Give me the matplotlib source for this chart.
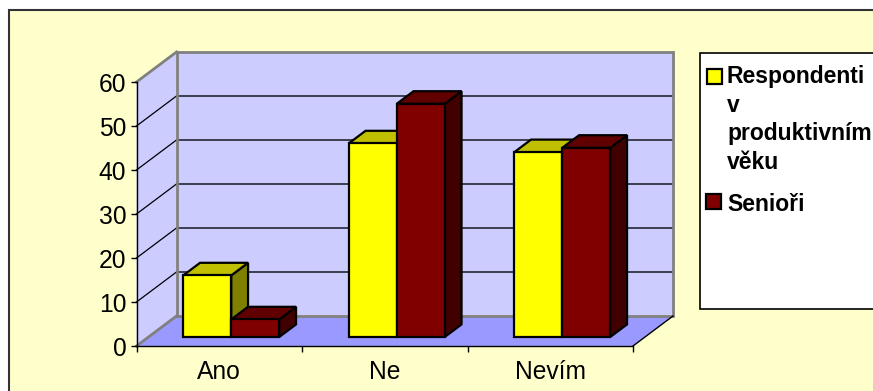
import matplotlib
matplotlib.use("Agg")
import matplotlib.pyplot as plt
from matplotlib.patches import Polygon, Rectangle

plt.rcParams["font.family"] = ["Liberation Sans", "DejaVu Sans"]

kategorie = ["Ano", "Ne", "Nevím"]
serie = ["Respondenti\nv\nproduktivním\nvěku", "Senioři"]
produktivni = [14, 44, 42]
seniori = [4, 53, 43]
y_ticks = [0, 10, 20, 30, 40, 50, 60]

# barvy sten sloupcu: predni, vrchni, bocni
barvy = [("#FFFF00", "#C0C000", "#808000"),
         ("#800000", "#600000", "#400000")]

W, H = 873, 391
fig = plt.figure(figsize=(W / 100, H / 100), dpi=100, facecolor="white")


def fx(x):
    return x / W


def fy(y):
    return 1 - y / H


# plocha grafu
fig.add_artist(Rectangle((fx(9), fy(410)), 880 / W, 400 / H, transform=fig.transFigure,
                         facecolor="#FFFFCC", edgecolor="#333333", lw=1.5, zorder=0))

# predni rovina os
L, R, B, T = 136.5, 633, 346, 82
ax = fig.add_axes([fx(L), fy(B), (R - L) / W, (B - T) / H])
ax.set_xlim(0, 3)
ax.set_ylim(0, 60)
ax.patch.set_visible(False)

# hloubka grafu v datovych jednotkach (40 px doprava, 30 px nahoru)
DX = 40 / ((R - L) / 3)
DY = 30 / ((B - T) / 60)
ymax = y_ticks[-1]

steny = dict(facecolor="#CCCCFF", edgecolor="none", clip_on=False)
ax.add_patch(Polygon([(DX, DY), (3 + DX, DY), (3 + DX, ymax + DY), (DX, ymax + DY)],
                     zorder=0.5, **steny))
ax.add_patch(Polygon([(0, 0), (DX, DY), (DX, ymax + DY), (0, ymax)], zorder=0.5, **steny))
ax.add_patch(Polygon([(0, 0), (3, 0), (3 + DX, DY), (DX, DY)], facecolor="#9999FF",
                     edgecolor="none", clip_on=False, zorder=0.6))

# mrizka na zadni a bocni stene
for v in y_ticks[1:-1]:
    ax.plot([DX, 3 + DX], [v + DY, v + DY], color="#333344", lw=1.3, clip_on=False, zorder=0.7)
    ax.plot([0, DX], [v, v + DY], color="black", lw=0.9, clip_on=False, zorder=0.7)

# okraje sten
sede = dict(color="#808080", lw=2, clip_on=False, zorder=0.8, solid_joinstyle="miter")
ax.plot([DX, 3 + DX, 3 + DX, DX, DX], [DY, DY, ymax + DY, ymax + DY, DY], **sede)
ax.plot([0, DX], [ymax, ymax + DY], **sede)
ax.plot([0, DX], [0, DY], **sede)
ax.plot([3, 3 + DX], [0, DY], color="black", lw=1, clip_on=False, zorder=0.8)

# sloupce
hloubka0, hloubka = 0.3, 0.42
sirka = 0.29
z = 2
for i in range(len(kategorie)):
    for j, hodnoty in enumerate((produktivni, seniori)):
        v = hodnoty[i]
        x0 = i + 0.5 - sirka + j * sirka + hloubka0 * DX
        y0 = hloubka0 * DY
        ddx, ddy = hloubka * DX, hloubka * DY
        predni, vrch, bok = barvy[j]
        plochy = [
            (bok, [(x0 + sirka, y0), (x0 + sirka + ddx, y0 + ddy),
                   (x0 + sirka + ddx, y0 + v + ddy), (x0 + sirka, y0 + v)]),
            (vrch, [(x0, y0 + v), (x0 + sirka, y0 + v),
                    (x0 + sirka + ddx, y0 + v + ddy), (x0 + ddx, y0 + v + ddy)]),
            (predni, [(x0, y0), (x0 + sirka, y0), (x0 + sirka, y0 + v), (x0, y0 + v)]),
        ]
        for barva, pts in plochy:
            ax.add_patch(Polygon(pts, closed=True, facecolor=barva, edgecolor="black",
                                 lw=1.6, joinstyle="miter", clip_on=False, zorder=z))
        z += 0.1

# osy
for s in ("top", "right"):
    ax.spines[s].set_visible(False)
for s in ("left", "bottom"):
    ax.spines[s].set_color("black")
    ax.spines[s].set_linewidth(1)
    ax.spines[s].set_zorder(5)

ax.set_yticks(y_ticks)
ax.tick_params(axis="y", direction="out", length=4.3, width=1, pad=3, labelsize=17.7)
ax.set_xticks([0, 1, 2, 3])
ax.set_xticklabels([])
ax.set_xticks([0.5, 1.5, 2.5], minor=True)
ax.set_xticklabels(kategorie, minor=True)
ax.tick_params(axis="x", which="major", direction="out", length=4.3, width=1)
ax.tick_params(axis="x", which="minor", length=0, pad=10, labelsize=17.7)

# legenda
fig.add_artist(Rectangle((fx(700), fy(309)), (W + 10 - 700) / W, (309 - 53) / H,
                         transform=fig.transFigure, facecolor="white", edgecolor="black",
                         lw=1.2, zorder=1))
znacky = [(714, 76, 83), (713, 201, 211)]
radek = 28.7
for (mx, my, base), nazev, (predni, _, _) in zip(znacky, serie, barvy):
    fig.add_artist(Rectangle((fx(mx - 7.5), fy(my + 7.5)), 15 / W, 15 / H,
                             transform=fig.transFigure, facecolor=predni,
                             edgecolor="black", lw=1.6, zorder=2))
    for k, text in enumerate(nazev.split("\n")):
        fig.text(fx(727), fy(base + k * radek), text, fontsize=16.5, fontweight="bold",
                 ha="left", va="baseline", zorder=2)

fig.savefig("out.png", dpi=100, facecolor="white")
